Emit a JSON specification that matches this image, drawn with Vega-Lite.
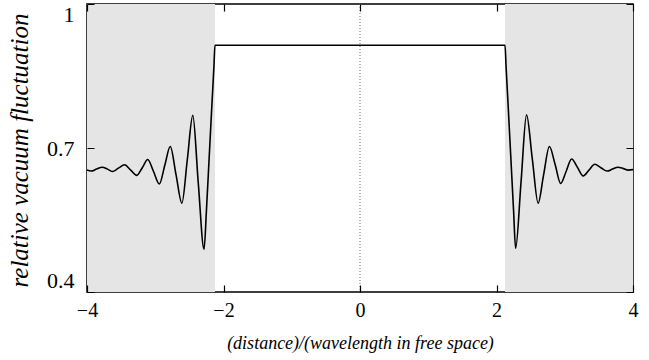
{
  "$schema": "https://vega.github.io/schema/vega-lite/v6.json",
  "width": 546,
  "height": 288,
  "autosize": "none",
  "padding": {"left": 87, "top": 4, "right": 16, "bottom": 68},
  "background": "white",
  "config": {
    "view": {"stroke": "black", "strokeWidth": 1.5}
  },
  "datasets": {
    "curve": [
      {"x": -4.00, "v": 0.654}, {"x": -3.94, "v": 0.652}, {"x": -3.86, "v": 0.656}, {"x": -3.78, "v": 0.660},
      {"x": -3.70, "v": 0.656}, {"x": -3.63, "v": 0.651}, {"x": -3.54, "v": 0.658}, {"x": -3.45, "v": 0.665},
      {"x": -3.36, "v": 0.654}, {"x": -3.27, "v": 0.643}, {"x": -3.19, "v": 0.659}, {"x": -3.11, "v": 0.676},
      {"x": -3.025, "v": 0.651}, {"x": -2.94, "v": 0.625}, {"x": -2.86, "v": 0.664}, {"x": -2.78, "v": 0.703},
      {"x": -2.695, "v": 0.644}, {"x": -2.61, "v": 0.585}, {"x": -2.53, "v": 0.676}, {"x": -2.45, "v": 0.768},
      {"x": -2.37, "v": 0.628}, {"x": -2.285, "v": 0.489}, {"x": -2.25, "v": 0.57}, {"x": -2.21, "v": 0.68},
      {"x": -2.17, "v": 0.79}, {"x": -2.14, "v": 0.87}, {"x": -2.125, "v": 0.914}, {"x": 0, "v": 0.914},
      {"x": 2.125, "v": 0.914}, {"x": 2.14, "v": 0.87}, {"x": 2.17, "v": 0.79}, {"x": 2.21, "v": 0.68},
      {"x": 2.25, "v": 0.57}, {"x": 2.28, "v": 0.491}, {"x": 2.36, "v": 0.63}, {"x": 2.44, "v": 0.769},
      {"x": 2.525, "v": 0.677}, {"x": 2.61, "v": 0.585}, {"x": 2.69, "v": 0.644}, {"x": 2.775, "v": 0.703},
      {"x": 2.86, "v": 0.665}, {"x": 2.94, "v": 0.626}, {"x": 3.02, "v": 0.651}, {"x": 3.10, "v": 0.677},
      {"x": 3.185, "v": 0.66}, {"x": 3.27, "v": 0.642}, {"x": 3.355, "v": 0.654}, {"x": 3.44, "v": 0.666},
      {"x": 3.53, "v": 0.659}, {"x": 3.62, "v": 0.652}, {"x": 3.70, "v": 0.656}, {"x": 3.78, "v": 0.660},
      {"x": 3.86, "v": 0.657}, {"x": 3.93, "v": 0.654}, {"x": 4.00, "v": 0.655}
    ],
    "bands": [
      {"x0": -4, "x1": -2.125, "y0": 0.4, "y1": 1},
      {"x0": 2.125, "x1": 4, "y0": 0.4, "y1": 1}
    ]
  },
  "layer": [
    {
      "data": {"name": "bands"},
      "mark": {"type": "rect", "fill": "#e5e5e5", "stroke": null},
      "encoding": {
        "x": {"field": "x0", "type": "quantitative", "scale": {"domain": [-4, 4], "nice": false, "zero": false},
              "axis": {"orient": "bottom", "values": [-4, -2, 0, 2, 4], "format": "~g", "ticks": false, "domain": false, "labelPadding": 8, "labelFontSize": 20, "labelFlush": false,
                       "labelFont": "Times New Roman", "labelColor": "black", "titleFont": "Times New Roman", "titleColor": "black", "titleFontWeight": "normal",
                       "grid": true, "gridColor": "black", "gridWidth": 1.2, "gridDash": [7, 274, 7], "gridOpacity": 1, "zindex": 1,
                       "title": "(distance)/(wavelength in free space)", "titleFontSize": 18, "titleFontStyle": "italic", "titleX": 273, "titleY": 51, "titleBaseline": "middle", "titleAlign": "center"}},
        "x2": {"field": "x1"},
        "y": {"field": "y0", "type": "quantitative", "scale": {"domain": [0.4, 1], "nice": false, "zero": false},
              "axis": {"orient": "left", "values": [0.4, 0.7, 1], "ticks": false, "domain": false, "labelPadding": 13, "labelFontSize": 22, "labelFlush": true, "format": "~g",
                       "labelFont": "Times New Roman", "labelColor": "black", "titleFont": "Times New Roman", "titleColor": "black", "titleFontWeight": "normal",
                       "grid": true, "gridColor": "black", "gridWidth": 1.2, "gridDash": [7, 532, 7], "gridOpacity": 1, "zindex": 1,
                       "title": "relative vacuum fluctuation", "titleFontSize": 25, "titleFontStyle": "italic", "titleX": -68, "titleY": 146, "titleBaseline": "middle", "titleAlign": "center", "titleAngle": -90}},
        "y2": {"field": "y1"}
      }
    },
    {
      "data": {"values": [{"x": 0}]},
      "mark": {"type": "rule", "color": "#777777", "strokeDash": [1, 2], "strokeWidth": 1},
      "encoding": {"x": {"field": "x", "type": "quantitative"}}
    },
    {
      "data": {"name": "curve"},
      "mark": {"type": "line", "color": "black", "strokeWidth": 1.6, "interpolate": "monotone"},
      "encoding": {
        "x": {"field": "x", "type": "quantitative"},
        "y": {"field": "v", "type": "quantitative"}
      }
    }
  ]
}
